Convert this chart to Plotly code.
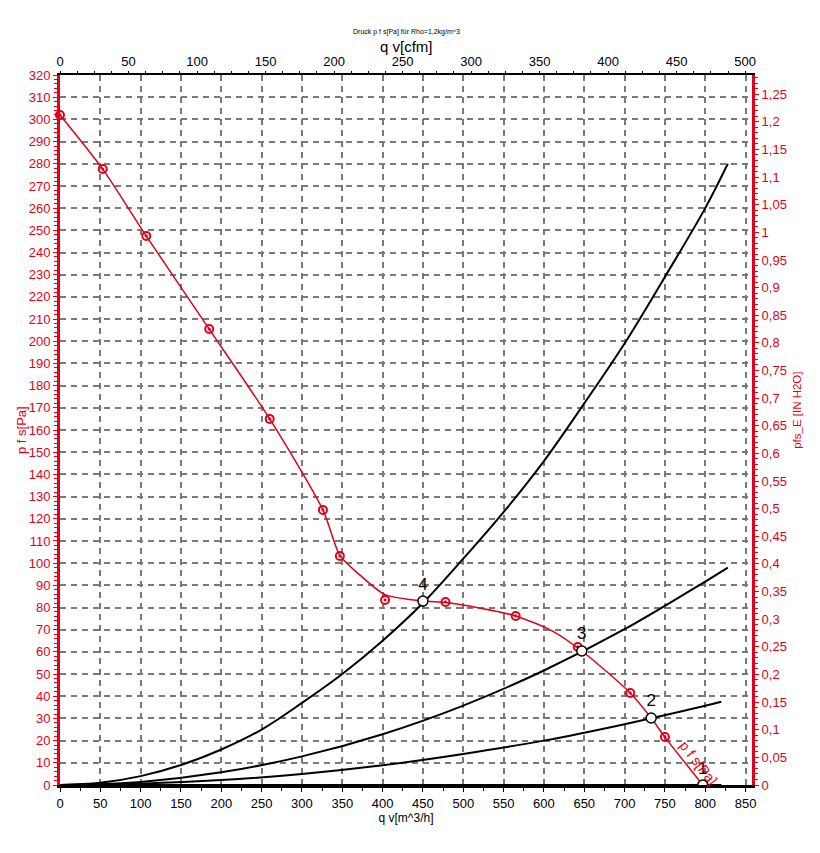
import plotly.graph_objects as go

# ---------------- data ----------------
# fan curve p_fs [Pa] vs q_v [m^3/h]
fan_q = [0, 53, 107, 185, 260, 326, 347, 372, 403, 450, 478, 520, 565, 610, 647, 707, 733, 750, 797]
fan_p = [302, 277.6, 247.4, 205.5, 165, 124, 103.5, 94.6, 85.8, 82.9, 82.3, 79.8, 76.2, 69.5, 60.4, 41.5, 30.2, 21.6, 0]

# measured points on the fan curve
meas_q = [0, 53, 107, 185, 260, 326, 347, 403, 478, 565, 642, 707, 750]
meas_p = [302, 277.6, 247.4, 205.5, 165, 124, 103.2, 83.4, 82.5, 76.2, 62.2, 41.5, 21.6]

# system curves
sysA_q = [0, 50, 100, 150, 200, 250, 300, 350, 400, 450, 500, 550, 600, 650, 700, 750, 800, 828]
sysA_p = [0, 1, 4, 9, 16, 25, 37, 50, 65, 82, 102, 123, 146, 172, 199, 229, 260, 280]
sysB_q = [0, 100, 200, 300, 400, 500, 600, 700, 800, 828]
sysB_p = [0, 1.4, 5.7, 12.9, 22.9, 35.8, 51.6, 70.2, 91.7, 98]
sysC_q = [0, 100, 200, 300, 400, 500, 600, 700, 800, 820]
sysC_p = [0, 0.6, 2.2, 5, 8.9, 14, 20, 27.4, 35.7, 37.5]
sysD_q = [0, 820]
sysD_p = [0, 0]

# operating points
op_q = [797, 733, 647, 450]
op_p = [0, 30.2, 60.4, 82.9]
op_labels = ["1", "2", "3", "4"]

# axes ticks
x_ticks = list(range(0, 851, 50))
cfm_ticks = list(range(0, 501, 50))
pa_ticks = list(range(0, 321, 10))
inh2o_ticks = [i * 0.05 for i in range(0, 26)]
inh2o_labels = [("%g" % round(v, 2)).replace(".", ",") for v in inh2o_ticks]

CFM = 1.699       # m3/h per cfm
PA_PER_INH2O = 249.089
X_MAX = 858
Y_MAX = 320

RED = "#e3001b"
FONT = "Liberation Sans, Arial, sans-serif"

fig = go.Figure()

for q, p in [(sysA_q, sysA_p), (sysB_q, sysB_p), (sysC_q, sysC_p), (sysD_q, sysD_p)]:
    fig.add_trace(go.Scatter(x=q, y=p, mode="lines", line=dict(color="black", width=2, shape="spline"),
                             hoverinfo="skip", showlegend=False))

fig.add_trace(go.Scatter(x=fan_q, y=fan_p, mode="lines",
                         line=dict(color=RED, width=1.5, shape="spline", smoothing=0.7),
                         showlegend=False))
fig.add_trace(go.Scatter(x=meas_q, y=meas_p, mode="markers",
                         marker=dict(symbol="circle-open-dot", size=8, color=RED, line=dict(width=2, color=RED)),
                         showlegend=False, cliponaxis=False))
fig.add_trace(go.Scatter(x=op_q, y=op_p, mode="markers+text", text=op_labels,
                         textposition="top center", textfont=dict(size=17, color="black", family=FONT),
                         marker=dict(symbol="circle", size=10, color="white", line=dict(width=1.5, color="black")),
                         showlegend=False))

# invisible traces for secondary axes
fig.add_trace(go.Scatter(x=[0], y=[0], xaxis="x2", yaxis="y2", mode="markers",
                         marker=dict(opacity=0), showlegend=False, hoverinfo="skip"))

# curve label
fig.add_annotation(x=792, y=10, xref="x", yref="y", text="p f s[Pa]", showarrow=False,
                   textangle=52, font=dict(size=14, color=RED, family=FONT))

# header / axis titles
fig.add_annotation(x=0.5, y=1.0, xref="paper", yref="paper", yanchor="middle", yshift=43,
                   text="Druck p f s[Pa] für Rho=1,2kg/m^3", showarrow=False,
                   font=dict(size=7, color="black", family=FONT))
fig.add_annotation(x=0.5, y=1.0, xref="paper", yref="paper", yanchor="middle", yshift=29,
                   text="q v[cfm]", showarrow=False, font=dict(size=15, color="black", family=FONT))
fig.add_annotation(x=0, y=0.5, xref="paper", yref="paper", xanchor="center", yanchor="middle",
                   xshift=-39, text="p f s[Pa]", textangle=-90, showarrow=False,
                   font=dict(size=13, color=RED, family=FONT))
fig.add_annotation(x=1, y=0.527, xref="paper", yref="paper", xanchor="center", yanchor="middle",
                   xshift=45, text="pfs_E [IN H2O]", textangle=-90, showarrow=False,
                   font=dict(size=11.5, color=RED, family=FONT))

grid = dict(showgrid=True, gridcolor="#7a7a7a", gridwidth=1.5, griddash="6px,5px")

fig.update_layout(
    width=812, height=845,
    margin=dict(l=52, r=68, t=67, b=68, autoexpand=False),
    paper_bgcolor="white", plot_bgcolor="white",
    font=dict(family=FONT, size=13, color="black"),
    showlegend=False,
    xaxis=dict(range=[0, X_MAX], tickvals=x_ticks, ticks="outside", ticklen=4, tickcolor="black",
               showline=True, linecolor="black", linewidth=3, zeroline=False, automargin=False,
               tickfont=dict(size=13, color="black"),
               minor=dict(dtick=25, ticks="outside", ticklen=3, tickcolor="black"),
               title=dict(text="q v[m^3/h]", font=dict(size=12, color="black"), standoff=1),
               **grid),
    yaxis=dict(range=[0, Y_MAX], tickvals=pa_ticks, ticks="outside", ticklen=4, tickcolor=RED,
               showline=True, linecolor=RED, linewidth=3, zeroline=False, automargin=False,
               tickfont=dict(size=13, color=RED),
               minor=dict(dtick=2, ticks="outside", ticklen=3, tickcolor=RED),
               **grid),
    xaxis2=dict(range=[0, X_MAX / CFM], tickvals=cfm_ticks, overlaying="x", side="top",
                ticks="outside", ticklen=2, tickcolor="black", showgrid=False, zeroline=False,
                showline=True, linecolor="black", linewidth=2, automargin=False,
                minor=dict(dtick=12.5, ticks="outside", ticklen=2, tickcolor="black"),
                tickfont=dict(size=13, color="black")),
    yaxis2=dict(range=[0, Y_MAX / PA_PER_INH2O], tickvals=inh2o_ticks, ticktext=inh2o_labels,
                overlaying="y", side="right", ticks="outside", ticklen=4, tickcolor=RED,
                showgrid=False, zeroline=False, showline=True, linecolor=RED, linewidth=3,
                automargin=False,
                minor=dict(dtick=0.01, ticks="outside", ticklen=3, tickcolor=RED),
                tickfont=dict(size=13, color=RED)),
)

fig.write_html("out.html")
